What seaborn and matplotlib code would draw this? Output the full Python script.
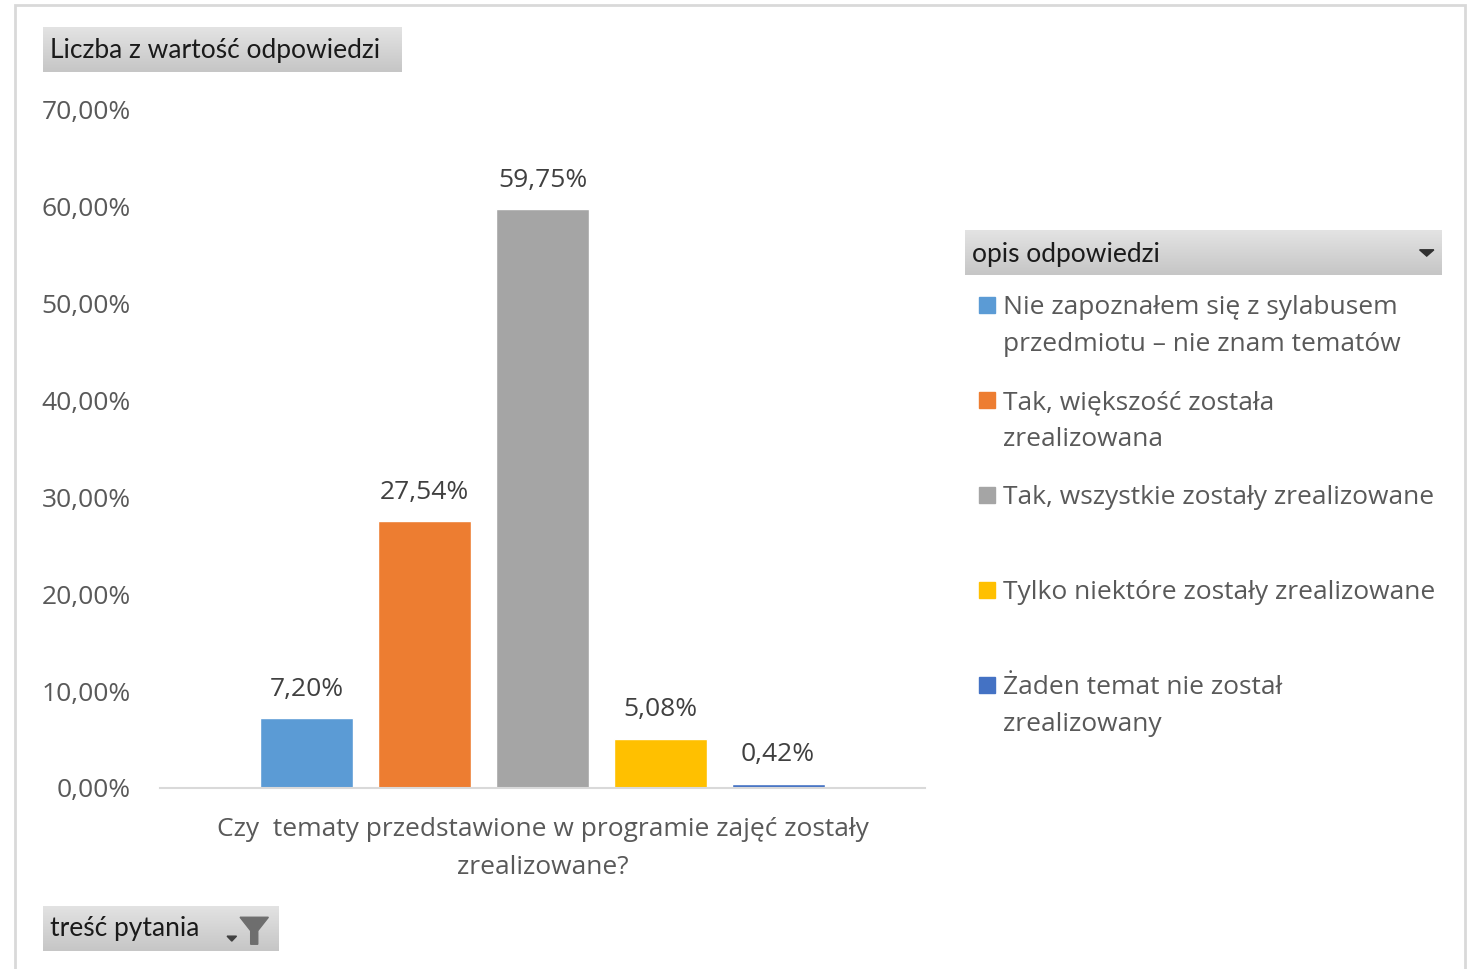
import numpy as np
import pandas as pd
import matplotlib
matplotlib.use("Agg")
import matplotlib.pyplot as plt
import seaborn as sns
from matplotlib.patches import Rectangle, Polygon

# data
question = "Czy  tematy przedstawione w programie zajęć zostały\nzrealizowane?"
answers = [
    "Nie zapoznałem się z sylabusem\nprzedmiotu – nie znam tematów",
    "Tak, większość została\nzrealizowana",
    "Tak, wszystkie zostały zrealizowane",
    "Tylko niektóre zostały zrealizowane",
    "Żaden temat nie został\nzrealizowany",
]
values = [7.20, 27.54, 59.75, 5.08, 0.42]
colors = ["#5B9BD5", "#ED7D31", "#A5A5A5", "#FFC000", "#4472C4"]
yticks = [0, 10, 20, 30, 40, 50, 60, 70]

W, H = 1471, 969
FS = 19

sns.set_theme(style="white")
plt.rcParams['font.family'] = ['Open Sans', 'DejaVu Sans']

def box(x0, y0, x1, y1):
    return [x0 / W, 1 - y1 / H, (x1 - x0) / W, (y1 - y0) / H]

fig = plt.figure(figsize=(W / 100, H / 100), dpi=100)

# outer chart frame
fig.patches.append(Rectangle((15 / W, -0.01), (1465 - 15) / W, 1 - 5 / H + 0.01,
                             transform=fig.transFigure, fill=False,
                             edgecolor="#D9D9D9", lw=2))

df = pd.DataFrame({"pytanie": [question] * len(values),
                   "odpowiedz": answers, "procent": values})

ax = fig.add_axes(box(160, 110, 925, 788))
sns.barplot(data=df, x="pytanie", y="procent", hue="odpowiedz",
            palette=colors, width=0.77, gap=0.21, saturation=1,
            legend=False, ax=ax)

ax.set_ylim(0, 70)
ax.set_yticks(yticks)
ax.set_yticklabels([f"{v:.2f}%".replace(".", ",") for v in yticks])
ax.tick_params(axis="y", length=0, pad=21, labelsize=FS, labelcolor="#595959")
ax.tick_params(axis="x", length=0, pad=21, labelsize=FS, labelcolor="#595959")
for lbl in ax.get_xticklabels():
    lbl.set_linespacing(1.65)
ax.set_xlabel("")
ax.set_ylabel("")
for s in ["top", "right", "left"]:
    ax.spines[s].set_visible(False)
ax.spines["bottom"].set_color("#D9D9D9")
ax.spines["bottom"].set_linewidth(1.5)

# data labels
for bar, v in zip(ax.patches, values):
    ax.annotate(f"{v:.2f}%".replace(".", ","),
                (bar.get_x() + bar.get_width() / 2, bar.get_height()),
                xytext=(0, 21), textcoords="offset points",
                ha="center", va="center", fontsize=FS, color="#404040")

# gray field buttons
def button(x0, y0, x1, y1):
    bax = fig.add_axes(box(x0, y0, x1, y1))
    grad = np.linspace(0, 1, 50).reshape(-1, 1)
    cmap = matplotlib.colors.LinearSegmentedColormap.from_list("g", ["#E3E3E3", "#C6C6C6"])
    bax.imshow(grad, aspect="auto", cmap=cmap, extent=(0, 1, 0, 1), origin="upper")
    bax.set_xlim(0, 1)
    bax.set_ylim(0, 1)
    bax.axis("off")
    return bax

b1 = button(43, 27, 402, 72)
b1.text(0.02, 0.47, "Liczba z wartość odpowiedzi", fontsize=FS, color="#1A1A1A",
        va="center", ha="left", family=["Lato", "DejaVu Sans"])

b2 = button(43, 906, 279, 951)
b2.text(0.03, 0.5, "treść pytania", fontsize=FS, color="#1A1A1A",
        va="center", ha="left", family=["Lato", "DejaVu Sans"])
b2.add_patch(Polygon([[0.835, 0.75], [0.955, 0.75], [0.91, 0.45], [0.91, 0.15],
                      [0.88, 0.15], [0.88, 0.45]], closed=True, color="#6E6E6E"))
b2.add_patch(Polygon([[0.78, 0.33], [0.82, 0.33], [0.80, 0.22]], closed=True, color="#404040"))

b3 = button(965, 230, 1441, 275)
b3.text(0.015, 0.45, "opis odpowiedzi", fontsize=FS, color="#1A1A1A",
        va="center", ha="left", family=["Lato", "DejaVu Sans"])
b3.add_patch(Polygon([[0.955, 0.56], [0.985, 0.56], [0.97, 0.42]], closed=True, color="#303030"))

# legend entries
for i, (lab, col) in enumerate(zip(answers, colors)):
    yc = 305 + 95 * i
    fig.patches.append(Rectangle((979 / W, 1 - (yc + 8) / H), 16 / W, 16 / H,
                                 transform=fig.transFigure, color=col))
    fig.text(1003 / W, 1 - (yc - 10) / H, lab, fontsize=FS, color="#595959",
             ha="left", va="top", linespacing=1.65)

fig.savefig("out.png", dpi=100)
